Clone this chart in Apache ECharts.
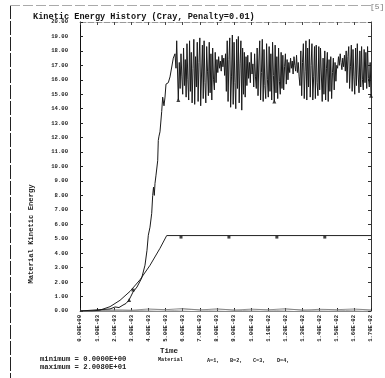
<!DOCTYPE html>
<html>
<head>
<meta charset="utf-8">
<script src="https://cdn.jsdelivr.net/npm/echarts@6/dist/echarts.min.js"></script>
<style>
html,body{margin:0;padding:0;background:#fff;}
#c{width:385px;height:378px;}
</style>
</head>
<body>
<div id="c"></div>
<script>
// ---- data ----
const xTickLabels = ['0.00E+00','1.00E-03','2.00E-03','3.00E-03','4.00E-03','5.00E-03','6.00E-03','7.00E-03','8.00E-03','9.00E-03','1.00E-02','1.10E-02','1.20E-02','1.30E-02','1.40E-02','1.50E-02','1.60E-02','1.70E-02'];
const yTickLabels = ['0.00','1.00','2.00','3.00','4.00','5.00','6.00','7.00','8.00','9.00','10.00','11.00','12.00','13.00','14.00','15.00','16.00','17.00','18.00','19.00','20.00'];

// Material A (time, kinetic energy)
const seriesA = [
 [0,0],[0.000876,0.07],[0.001753,0.14],[0.002045,0.28],[0.002278,0.24],[0.002512,0.41],[0.002687,0.52],
 [0.002862,0.76],[0.002979,1.03],[0.003096,1.31],[0.00333,1.66],[0.003604,2.28],[0.003797,3.17],
 [0.003914,4.2],[0.00399,5.24],[0.004089,5.8],[0.004189,6.76],[0.004247,8.0],[0.004294,8.57],
 [0.00434,8.0],[0.004381,8.83],[0.00444,9.4],[0.004539,10.4],[0.004574,11.8],[0.004615,12.1],
 [0.004673,12.4],[0.004773,13.8],[0.004831,14.8],[0.004907,14.2],[0.004966,14.8],[0.005024,15.7],
 [0.005158,15.8],[0.005258,16.2],[0.005357,16.1],[0.00545,17.5],[0.00555,17.8],[0.005608,16.8],
 [0.005649,18.7],[0.005743,14.6],
 [0.00580,17.2],[0.00585,15.4],[0.00590,17.8],[0.00595,16.2],[0.00600,15.0],[0.00605,18.2],[0.00610,15.6],
 [0.00615,17.4],[0.00620,14.8],[0.00625,18.5],[0.00630,16.0],[0.00635,14.6],[0.00640,18.7],[0.00645,15.2],
 [0.00650,17.9],[0.00655,14.4],[0.00660,16.8],[0.00665,18.8],[0.00670,14.3],[0.00675,17.6],[0.00680,15.5],
 [0.00685,18.6],[0.00690,14.5],[0.00695,17.2],[0.00700,18.9],[0.00705,14.2],[0.00710,16.4],[0.00715,18.4],
 [0.00720,14.7],[0.00725,18.7],[0.00730,15.8],[0.00735,14.4],[0.00740,18.3],[0.00745,16.6],[0.00750,14.9],
 [0.00755,18.6],[0.00760,15.1],[0.00765,17.8],[0.00770,14.6],[0.00775,18.2],[0.00780,16.0],[0.00785,15.3],
 [0.00790,17.9],[0.00795,15.8],[0.00800,17.4],
 [0.00805,16.5],[0.00810,17.6],[0.00815,16.8],[0.00820,17.3],[0.00825,16.6],[0.00830,17.7],[0.00835,16.9],
 [0.00840,17.5],[0.00845,16.3],[0.00850,17.8],
 [0.00855,15.2],[0.00860,18.7],[0.00865,14.5],[0.00870,17.4],[0.00875,18.9],[0.00880,14.1],[0.00885,16.2],
 [0.00890,19.1],[0.00895,14.3],[0.00900,18.6],[0.00905,15.8],[0.00910,14.0],[0.00915,18.8],[0.00920,15.4],
 [0.00925,19.0],[0.00930,14.4],[0.00935,17.1],[0.00940,18.7],[0.00945,13.9],[0.00950,18.2],[0.00955,15.0],
 [0.00960,17.9],[0.00965,14.8],[0.00970,17.6],
 [0.00975,15.6],[0.00980,17.7],[0.00985,16.1],[0.00990,17.2],[0.00995,15.8],[0.01000,17.9],[0.01005,16.4],
 [0.01010,17.1],[0.01015,15.5],[0.01020,17.8],[0.01025,16.2],[0.01030,15.4],
 [0.01035,18.2],[0.01040,14.9],[0.01045,17.3],[0.01050,18.7],[0.01055,14.6],[0.01060,16.5],[0.01065,18.8],
 [0.01070,14.5],[0.01075,18.1],[0.01080,15.6],[0.01085,14.7],[0.01090,18.5],[0.01095,16.0],[0.01100,14.8],
 [0.01105,18.3],[0.01110,15.2],[0.01115,17.8],[0.01120,14.6],[0.01125,18.6],[0.01130,16.3],[0.01135,14.5],
 [0.01140,18.4],[0.01145,15.1],[0.01150,17.6],[0.01155,14.7],[0.01160,18.2],[0.01165,15.9],[0.01170,15.0],
 [0.01175,17.9],[0.01180,15.4],[0.01185,17.7],[0.01190,15.3],[0.01195,16.9],[0.01200,17.8],[0.01205,15.7],
 [0.01210,17.4],[0.01215,16.0],[0.01220,17.2],
 [0.01225,16.5],[0.01230,17.5],[0.01235,16.8],[0.01240,17.3],[0.01245,16.4],[0.01250,17.6],[0.01255,17.0],
 [0.01260,16.6],[0.01265,17.7],[0.01270,16.5],[0.01275,17.2],[0.01280,16.2],
 [0.01285,15.6],[0.01290,18.0],[0.01295,14.9],[0.01300,17.2],[0.01305,18.5],[0.01310,14.7],[0.01315,16.6],
 [0.01320,18.7],[0.01325,14.6],[0.01330,18.2],[0.01335,15.5],[0.01340,18.8],[0.01345,14.8],[0.01350,17.0],
 [0.01355,18.5],[0.01360,14.6],[0.01365,16.2],[0.01370,18.3],[0.01375,14.7],[0.01380,18.4],[0.01385,15.8],
 [0.01390,14.9],[0.01395,18.3],[0.01400,15.3],[0.01405,18.2],[0.01410,18.3],[0.01415,14.5],[0.01420,17.5],
 [0.01425,15.0],[0.01430,18.0],[0.01435,14.6],[0.01440,16.8],[0.01445,17.9],[0.01450,14.5],[0.01455,17.4],
 [0.01460,15.2],[0.01465,17.6],[0.01470,14.7],[0.01475,16.5],[0.01480,17.5],[0.01485,15.3],[0.01490,17.2],
 [0.01495,15.9],[0.01500,17.0],
 [0.01505,16.8],[0.01510,17.6],[0.01515,17.0],[0.01520,17.8],[0.01525,17.2],[0.01530,16.7],[0.01535,17.5],
 [0.01540,16.9],[0.01545,17.7],[0.01550,16.6],
 [0.01555,18.0],[0.01560,15.8],[0.01565,17.6],[0.01570,18.3],[0.01575,15.4],[0.01580,16.9],[0.01585,18.4],
 [0.01590,15.2],[0.01595,18.1],[0.01600,16.2],[0.01605,15.0],[0.01610,18.2],[0.01615,15.6],[0.01620,18.5],
 [0.01625,16.4],[0.01630,15.1],[0.01635,18.0],[0.01640,15.5],[0.01645,18.3],[0.01650,16.0],[0.01655,15.3],
 [0.01660,18.1],[0.01665,15.8],[0.01670,17.9],[0.01675,15.4],[0.01680,18.3],[0.01685,16.1],[0.01690,15.5],
 [0.01695,17.2],[0.01700,14.9]
];
// Material B
const seriesB = [
 [0,0],[0.000701,0],[0.001168,0.06],[0.001753,0.30],[0.002337,0.74],[0.002921,1.36],
 [0.003505,2.16],[0.004089,3.16],[0.004673,4.34],[0.005065,5.22],[0.017,5.22]
];
// Material C and D (near zero)
const seriesC = [
 [0,0],[0.001,0.03],[0.002,0.08],[0.003,0.05],[0.004,0.14],[0.005,0.09],[0.006,0.17],[0.007,0.07],
 [0.008,0.15],[0.009,0.06],[0.010,0.13],[0.011,0.08],[0.012,0.16],[0.013,0.05],[0.014,0.12],
 [0.015,0.09],[0.016,0.14],[0.017,0.07]
];
const seriesD = [
 [0,0],[0.0015,0.02],[0.0025,0.05],[0.0035,0.03],[0.0045,0.08],[0.0055,0.04],[0.0065,0.1],
 [0.0075,0.05],[0.0085,0.09],[0.0095,0.03],[0.0105,0.08],[0.0115,0.04],[0.0125,0.1],[0.0135,0.05],
 [0.0145,0.07],[0.0155,0.03],[0.0165,0.08],[0.017,0.05]
];
// curve letter markers
const markersA = [[0.00287,0.76],[0.005743,14.6],[0.01135,14.5],[0.0170,14.9]];
const markersB = [[0.0031,1.55],[0.0059,5.22],[0.0087,5.22],[0.0115,5.22],[0.0143,5.22]];

const titleText = 'Kinetic Energy History (Cray, Penalty=0.01)';
const yName = 'Material Kinetic Energy';
const xName = 'Time';

// ---- chart ----
const FONT = '"Liberation Mono", "DejaVu Sans Mono", monospace';
const chart = echarts.init(document.getElementById('c'), null, {renderer:'canvas'});
const option = {
  animation:false,
  backgroundColor:'#fff',
  title:{text:titleText,left:28,top:7,textStyle:{fontFamily:FONT,fontWeight:'bold',fontSize:8.6,color:'#111'}},
  grid:{left:80,right:14,top:22,bottom:67},
  xAxis:[
    {type:'value',min:0,max:0.017,interval:0.001,position:'bottom',
     axisLine:{show:true,onZero:false,lineStyle:{color:'#888',width:1}},
     axisTick:{show:true,inside:true,length:3,lineStyle:{color:'#222'}},
     axisLabel:{rotate:90,fontSize:5.6,fontFamily:FONT,fontWeight:'bold',color:'#222',margin:4,
       formatter:v=>xTickLabels[Math.round(v/0.001)]||''},
     splitLine:{show:false}},
    {type:'value',min:0,max:0.017,interval:0.001,position:'top',
     axisLine:{show:true,onZero:false,lineStyle:{color:'#999',width:1,type:[6,2]}},
     axisTick:{show:true,inside:true,length:3,lineStyle:{color:'#444'}},
     axisLabel:{show:false},splitLine:{show:false}}
  ],
  yAxis:[
    {type:'value',min:0,max:20,interval:1,position:'left',
     axisLine:{show:true,onZero:false,lineStyle:{color:'#111',width:1}},
     axisTick:{show:true,inside:true,length:3,lineStyle:{color:'#222'}},
     axisLabel:{fontSize:5.6,fontFamily:FONT,fontWeight:'bold',color:'#222',margin:12,
       formatter:v=>yTickLabels[Math.round(v)]||''},
     splitLine:{show:false}},
    {type:'value',min:0,max:20,interval:1,position:'right',
     axisLine:{show:true,onZero:false,lineStyle:{color:'#333',width:1}},
     axisTick:{show:true,inside:true,length:3,lineStyle:{color:'#333'}},
     axisLabel:{show:false},splitLine:{show:false}}
  ],
  series:[
    {name:'D',type:'line',data:seriesD,showSymbol:false,lineStyle:{color:'#999',width:0.8}},
    {name:'C',type:'line',data:seriesC,showSymbol:false,lineStyle:{color:'#777',width:0.8}},
    {name:'B',type:'line',data:seriesB,showSymbol:false,lineStyle:{color:'#222',width:1}},
    {name:'A',type:'line',data:seriesA,showSymbol:false,lineStyle:{color:'#1a1a1a',width:1}},
    {name:'mA',type:'scatter',data:markersA,symbol:'triangle',symbolSize:4,itemStyle:{color:'#111'}},
    {name:'mB',type:'scatter',data:markersB,symbol:'rect',symbolSize:3,symbolOffset:[0,1.5],itemStyle:{color:'#111'}}
  ],
  graphic:[
    {type:'line',shape:{x1:10.5,y1:5,x2:10.5,y2:378},style:{stroke:'#222',lineWidth:1,lineDash:[14,2]}},
    {type:'line',shape:{x1:10,y1:5.5,x2:372,y2:5.5},style:{stroke:'#aaa',lineWidth:1,lineDash:[10,3]}},
    {type:'text',x:370,y:3,style:{text:'[5]',fontFamily:FONT,fontSize:8,fill:'#777'}},
    {type:'text',x:31,y:234,rotation:Math.PI/2,style:{text:yName,fontFamily:FONT,fontWeight:'bold',fontSize:7.2,fill:'#222',align:'center',verticalAlign:'middle'}},
    {type:'text',x:160,y:351,style:{text:xName,fontFamily:FONT,fontWeight:'bold',fontSize:7.5,fill:'#222',verticalAlign:'middle'}},
    {type:'text',x:158,y:360,style:{text:'Material',fontFamily:FONT,fontWeight:'bold',fontSize:5.2,fill:'#222',verticalAlign:'middle'}},
    {type:'text',x:207,y:360.5,style:{text:'A=1,',fontFamily:FONT,fontWeight:'bold',fontSize:5.2,fill:'#222',verticalAlign:'middle'}},
    {type:'text',x:230,y:360.5,style:{text:'B=2,',fontFamily:FONT,fontWeight:'bold',fontSize:5.2,fill:'#222',verticalAlign:'middle'}},
    {type:'text',x:253,y:360.5,style:{text:'C=3,',fontFamily:FONT,fontWeight:'bold',fontSize:5.2,fill:'#222',verticalAlign:'middle'}},
    {type:'text',x:277,y:360.5,style:{text:'D=4,',fontFamily:FONT,fontWeight:'bold',fontSize:5.2,fill:'#222',verticalAlign:'middle'}},
    {type:'text',x:40,y:359,style:{text:'minimum = 0.0000E+00',fontFamily:FONT,fontWeight:'bold',fontSize:7.2,fill:'#222',verticalAlign:'middle'}},
    {type:'text',x:40,y:367,style:{text:'maximum = 2.0080E+01',fontFamily:FONT,fontWeight:'bold',fontSize:7.2,fill:'#222',verticalAlign:'middle'}}
  ]
};
chart.setOption(option);
</script>
</body>
</html>
